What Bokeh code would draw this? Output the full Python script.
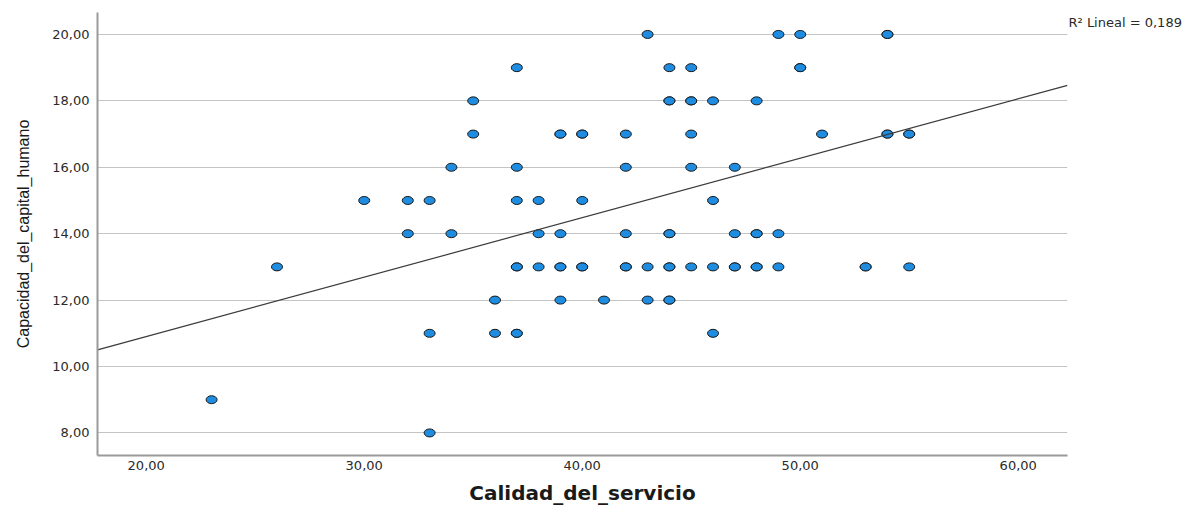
from bokeh.plotting import figure
from bokeh.models import FixedTicker, LinearAxis, ColumnDataSource
from bokeh.embed import file_html
from bokeh.resources import INLINE
import numpy as np

# Data (Calidad_del_servicio, Capacidad_del_capital_humano)
row_20 = [43, 49, 50, 54, 54]
row_19 = [37, 44, 45, 50, 50]
row_18 = [35, 44, 44, 45, 45, 46, 48]
row_17 = [35, 39, 39, 40, 40, 42, 45, 51, 54, 54, 55, 55]
row_16 = [34, 37, 42, 45, 47]
row_15 = [30, 32, 33, 37, 38, 40, 46]
row_14 = [32, 34, 38, 39, 42, 44, 44, 47, 48, 48, 49]
row_13 = [26, 37, 37, 38, 39, 39, 40, 40, 42, 42, 43, 44, 44, 45, 46, 47, 47,
          48, 48, 49, 53, 53, 55]
row_12 = [36, 39, 41, 43, 44, 44]
row_11 = [33, 36, 37, 37, 46]
row_9 = [23]
row_8 = [33]

rows = {20: row_20, 19: row_19, 18: row_18, 17: row_17, 16: row_16, 15: row_15,
        14: row_14, 13: row_13, 12: row_12, 11: row_11, 9: row_9, 8: row_8}

# Linear fit line
fit_intercept = 7.32
fit_slope = 0.179

x_ticks = [20, 30, 40, 50, 60]
x_tick_labels = ["20,00", "30,00", "40,00", "50,00", "60,00"]
y_ticks = [8, 10, 12, 14, 16, 18, 20]
y_tick_labels = ["8,00", "10,00", "12,00", "14,00", "16,00", "18,00", "20,00"]
r2_text = "R\u00b2 Lineal = 0,189"
r2_pos = 20.36
x_title = "Calidad_del_servicio"
y_title = "Capacidad_del_capital_humano"

xs, ys = [], []
for yv, xl in rows.items():
    for xv in xl:
        xs.append(xv)
        ys.append(yv)
xs = np.array(xs, dtype=float)
ys = np.array(ys, dtype=float)

X_START, X_END = 17.766, 62.26
Y_START, Y_END = 7.32, 20.661

p = figure(width=1194, height=507, x_range=(X_START, X_END), y_range=(Y_START, Y_END),
           output_backend="svg", toolbar_location=None,
           min_border_left=97, min_border_right=127, min_border_top=12, min_border_bottom=51)
p.outline_line_color = None
p.background_fill_color = "white"
p.border_fill_color = "white"

p.xgrid.grid_line_color = None
p.ygrid.grid_line_color = "#c4c4c4"
p.ygrid.grid_line_width = 1

p.xaxis.ticker = FixedTicker(ticks=x_ticks)
p.yaxis.ticker = FixedTicker(ticks=y_ticks)
p.xaxis.major_label_overrides = dict(zip(x_ticks, x_tick_labels))
p.yaxis.major_label_overrides = dict(zip(y_ticks, y_tick_labels))

for ax in (p.xaxis, p.yaxis):
    ax.axis_line_color = "#9a9a9a"
    ax.axis_line_width = 2
    ax.major_tick_line_color = None
    ax.minor_tick_line_color = None
    ax.major_tick_out = 0
    ax.major_tick_in = 0
    ax.major_label_text_font = "DejaVu Sans"
    ax.major_label_text_font_size = "13px"
    ax.major_label_text_color = "#2a2a2a"

p.xaxis.major_label_standoff = 5
p.yaxis.major_label_standoff = 8

p.xaxis.axis_label = x_title
p.xaxis.axis_label_text_font = "DejaVu Sans"
p.xaxis.axis_label_text_font_style = "bold"
p.xaxis.axis_label_text_font_size = "20px"
p.xaxis.axis_label_text_color = "#1a1a1a"
p.xaxis.axis_label_standoff = 8

p.yaxis.axis_label = y_title
p.yaxis.axis_label_text_font = "Liberation Sans"
p.yaxis.axis_label_text_font_style = "normal"
p.yaxis.axis_label_text_font_size = "16px"
p.yaxis.axis_label_text_color = "#1a1a1a"
p.yaxis.axis_label_standoff = 17

# R² note at the top right, as a right-hand axis label
r2_axis = LinearAxis(ticker=FixedTicker(ticks=[r2_pos]),
                     major_label_overrides={r2_pos: r2_text},
                     axis_line_color=None, major_tick_line_color=None,
                     minor_tick_line_color=None, major_tick_out=0, major_tick_in=0,
                     major_label_standoff=1, major_label_text_font="DejaVu Sans",
                     major_label_text_font_size="13px", major_label_text_color="#2a2a2a")
p.add_layout(r2_axis, "right")

src = ColumnDataSource(dict(x=xs, y=ys))
p.ellipse("x", "y", width=11, height=8, width_units="screen", height_units="screen",
          source=src, fill_color="#1e8ce0", line_color="#1a1a1a", line_width=1)

fit_x = np.array([X_START, X_END])
p.line(fit_x, fit_intercept + fit_slope * fit_x, line_color="#3a3a3a", line_width=1.2)

open("out.html", "w").write(file_html(p, INLINE))
